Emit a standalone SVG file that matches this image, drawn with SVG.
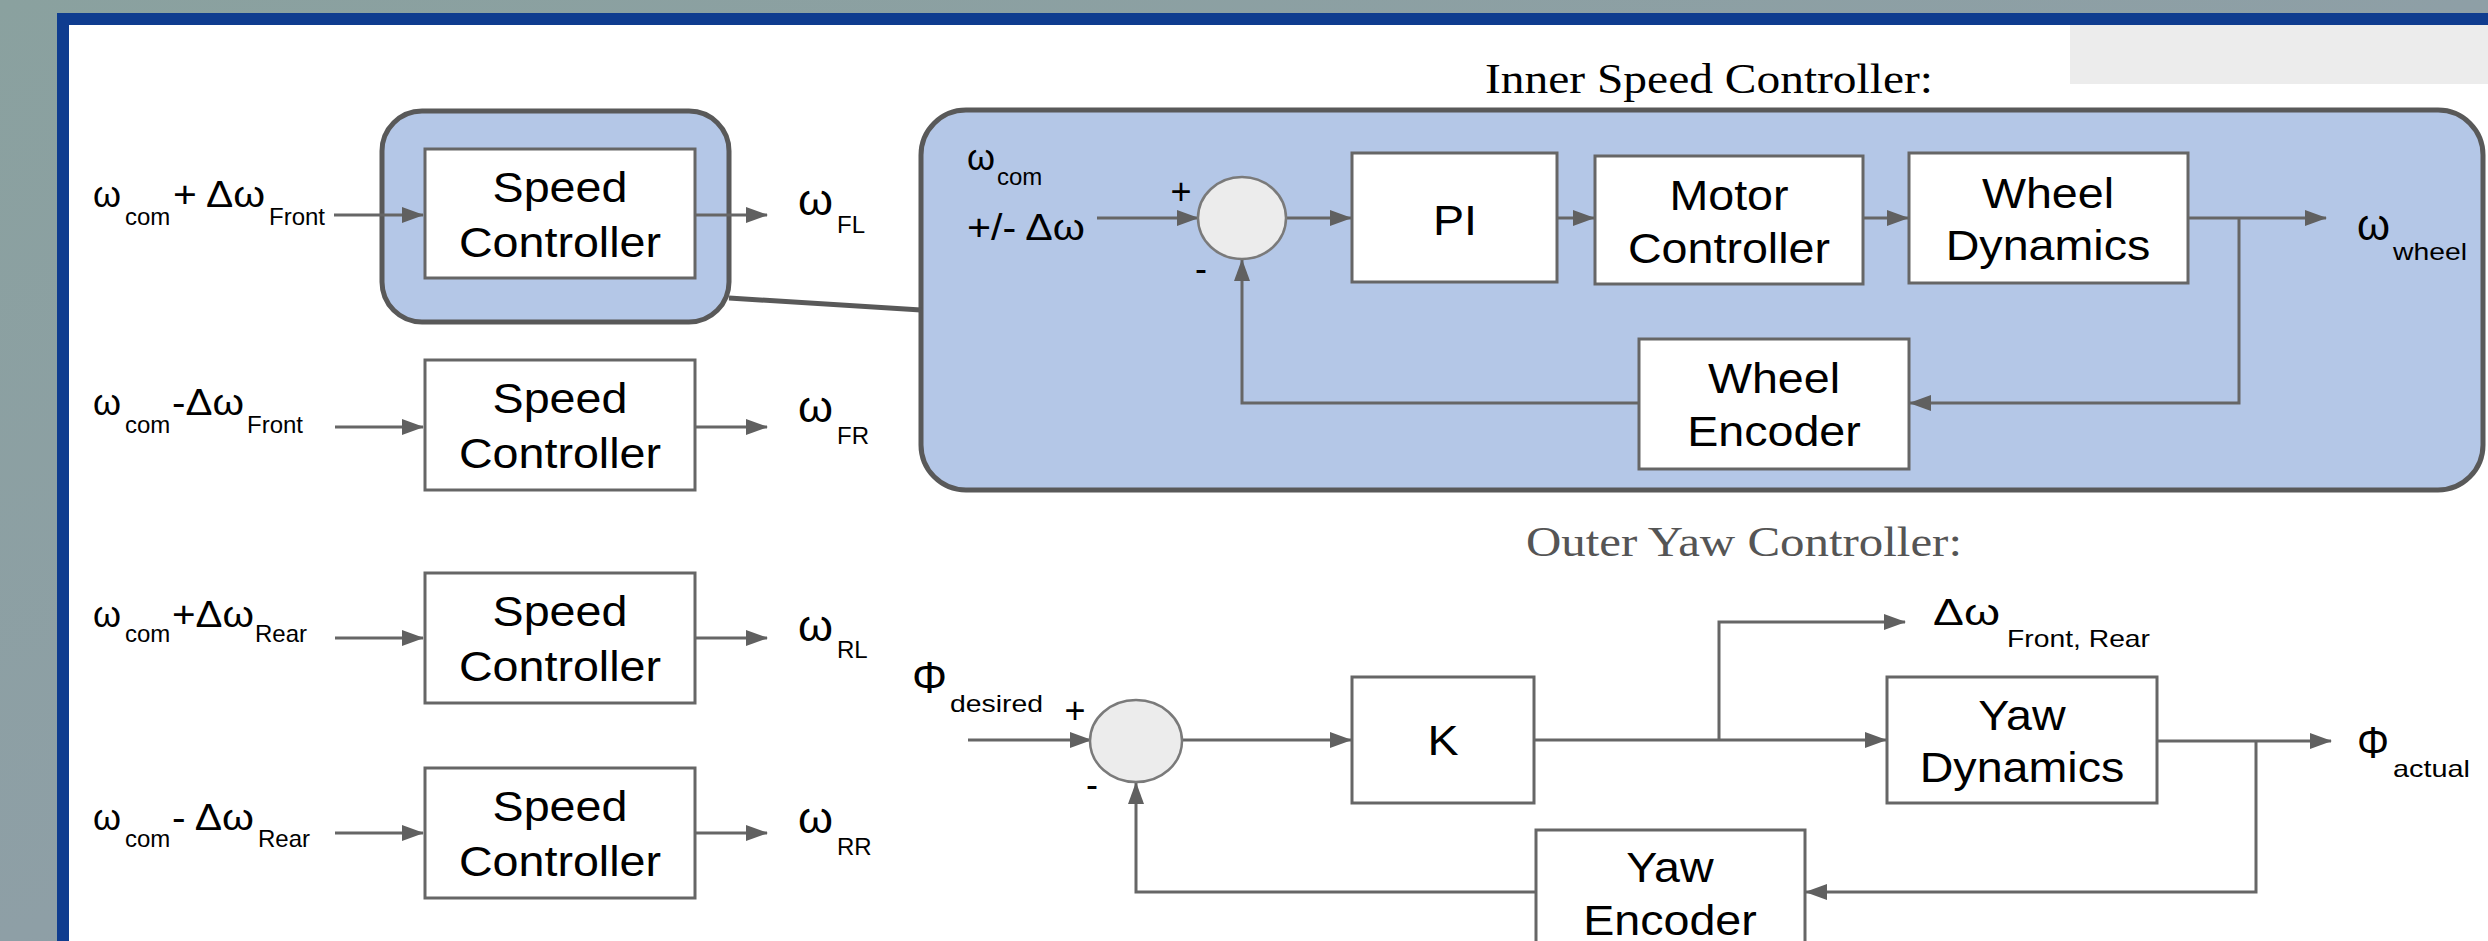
<svg xmlns="http://www.w3.org/2000/svg" width="2488" height="941" viewBox="0 0 2488 941">
<defs>
<linearGradient id="bg" x1="0" y1="0" x2="1" y2="1">
<stop offset="0" stop-color="#8aa19f"/>
<stop offset="0.5" stop-color="#8e9fa6"/>
<stop offset="1" stop-color="#8f98a8"/>
</linearGradient>
<marker id="ah" viewBox="0 0 22 16" refX="21" refY="8" markerWidth="22" markerHeight="16" markerUnits="userSpaceOnUse" orient="auto">
<path d="M0,0 L22,8 L0,16 z" fill="#606060"/>
</marker>
<style>
.box{fill:#ffffff;stroke:#666;stroke-width:3}
.bt{font-family:"Liberation Sans",Arial,sans-serif;font-size:42px;fill:#000;text-anchor:middle;transform-box:fill-box;transform-origin:center;transform:scaleX(1.11)}
.ln{fill:none;stroke:#666;stroke-width:3}
.ar{fill:none;stroke:#666;stroke-width:3;marker-end:url(#ah)}
.sum{fill:#ececec;stroke:#7a7a7a;stroke-width:2.5}
.m{font-family:"Liberation Sans",Arial,sans-serif;font-size:36px;fill:#000}
.mo{font-family:"Liberation Sans",Arial,sans-serif;font-size:45px;fill:#000}
.s{font-family:"Liberation Sans",Arial,sans-serif;font-size:24px;fill:#000}
.sg{font-family:"Liberation Sans",Arial,sans-serif;font-size:36px;fill:#000;text-anchor:middle}
.title{font-family:"Liberation Serif","Times New Roman",serif;font-size:42px}
</style>
</defs>

<!-- background and frame -->
<rect x="0" y="0" width="2488" height="941" fill="url(#bg)"/>
<rect x="57" y="13" width="2440" height="940" fill="#0f3c8f"/>
<rect x="69" y="25" width="2430" height="930" fill="#ffffff"/>
<rect x="2070" y="25" width="418" height="59" fill="#ececec"/>

<!-- titles -->
<text class="title" x="1485" y="93" textLength="448" lengthAdjust="spacingAndGlyphs" fill="#000">Inner Speed Controller:</text>
<text class="title" x="1526" y="556" textLength="436" lengthAdjust="spacingAndGlyphs" fill="#555">Outer Yaw Controller:</text>

<!-- containers -->
<g id="highlight">
<rect x="382" y="111" width="347" height="211" rx="40" ry="40" fill="#b4c7e7" stroke="#595959" stroke-width="5"/>
</g>
<g id="inner-speed-controller">
<rect x="921" y="110" width="1562" height="380" rx="45" ry="45" fill="#b4c7e7" stroke="#595959" stroke-width="5"/>
</g>

<!-- connectors -->
<g id="connectors">
<line x1="729" y1="298" x2="921" y2="310" stroke="#595959" stroke-width="5"/>
<!-- left column -->
<line class="ar" x1="334" y1="215" x2="423" y2="215"/>
<line class="ar" x1="695" y1="215" x2="767" y2="215"/>
<line class="ar" x1="335" y1="427" x2="423" y2="427"/>
<line class="ar" x1="695" y1="427" x2="767" y2="427"/>
<line class="ar" x1="335" y1="638" x2="423" y2="638"/>
<line class="ar" x1="695" y1="638" x2="767" y2="638"/>
<line class="ar" x1="335" y1="833" x2="423" y2="833"/>
<line class="ar" x1="695" y1="833" x2="767" y2="833"/>
<!-- inner loop -->
<line class="ar" x1="1097" y1="218" x2="1198" y2="218"/>
<line class="ar" x1="1286" y1="218" x2="1351" y2="218"/>
<line class="ar" x1="1557" y1="218" x2="1594" y2="218"/>
<line class="ar" x1="1863" y1="218" x2="1908" y2="218"/>
<line class="ar" x1="2188" y1="218" x2="2326" y2="218"/>
<polyline class="ar" points="2239,218 2239,403 1910,403"/>
<polyline class="ar" points="1639,403 1242,403 1242,260"/>
<!-- outer loop -->
<line class="ar" x1="968" y1="740" x2="1091" y2="740"/>
<line class="ar" x1="1182" y1="740" x2="1351" y2="740"/>
<line class="ar" x1="1534" y1="740" x2="1886" y2="740"/>
<polyline class="ar" points="1719,740 1719,622 1905,622"/>
<line class="ar" x1="2157" y1="741" x2="2331" y2="741"/>
<polyline class="ar" points="2256,741 2256,892 1806,892"/>
<polyline class="ar" points="1536,892 1136,892 1136,783"/>
</g>

<!-- nodes -->
<g id="speed-controller-fl">
<rect class="box" x="425" y="149" width="270" height="129"/>
<text class="bt" x="560" y="202">Speed</text>
<text class="bt" x="560" y="257">Controller</text>
</g>
<g id="speed-controller-fr">
<rect class="box" x="425" y="360" width="270" height="130"/>
<text class="bt" x="560" y="413">Speed</text>
<text class="bt" x="560" y="468">Controller</text>
</g>
<g id="speed-controller-rl">
<rect class="box" x="425" y="573" width="270" height="130"/>
<text class="bt" x="560" y="626">Speed</text>
<text class="bt" x="560" y="681">Controller</text>
</g>
<g id="speed-controller-rr">
<rect class="box" x="425" y="768" width="270" height="130"/>
<text class="bt" x="560" y="821">Speed</text>
<text class="bt" x="560" y="876">Controller</text>
</g>

<g id="inner-sum">
<ellipse class="sum" cx="1242" cy="218" rx="44" ry="41"/>
</g>
<g id="pi">
<rect class="box" x="1352" y="153" width="205" height="129"/>
<text class="bt" x="1455" y="235">PI</text>
</g>
<g id="motor-controller">
<rect class="box" x="1595" y="156" width="268" height="128"/>
<text class="bt" x="1729" y="210">Motor</text>
<text class="bt" x="1729" y="263">Controller</text>
</g>
<g id="wheel-dynamics">
<rect class="box" x="1909" y="153" width="279" height="130"/>
<text class="bt" x="2048" y="208">Wheel</text>
<text class="bt" x="2048" y="260">Dynamics</text>
</g>
<g id="wheel-encoder">
<rect class="box" x="1639" y="339" width="270" height="130"/>
<text class="bt" x="1774" y="393">Wheel</text>
<text class="bt" x="1774" y="446">Encoder</text>
</g>

<g id="outer-sum">
<ellipse class="sum" cx="1136" cy="741" rx="46" ry="41"/>
</g>
<g id="k">
<rect class="box" x="1352" y="677" width="182" height="126"/>
<text class="bt" x="1443" y="755">K</text>
</g>
<g id="yaw-dynamics">
<rect class="box" x="1887" y="677" width="270" height="126"/>
<text class="bt" x="2022" y="730">Yaw</text>
<text class="bt" x="2022" y="782">Dynamics</text>
</g>
<g id="yaw-encoder">
<rect class="box" x="1536" y="830" width="269" height="140"/>
<text class="bt" x="1670" y="882">Yaw</text>
<text class="bt" x="1670" y="935">Encoder</text>
</g>

<!-- labels -->
<g id="labels">
<!-- inputs -->
<text class="m" x="93" y="207" textLength="28" lengthAdjust="spacingAndGlyphs">ω</text>
<text class="s" x="125" y="225">com</text>
<text class="m" x="173" y="207" textLength="92" lengthAdjust="spacingAndGlyphs">+ Δω</text>
<text class="s" x="269" y="225">Front</text>

<text class="m" x="93" y="415" textLength="28" lengthAdjust="spacingAndGlyphs">ω</text>
<text class="s" x="125" y="433">com</text>
<text class="m" x="172" y="415" textLength="72" lengthAdjust="spacingAndGlyphs">-Δω</text>
<text class="s" x="247" y="433">Front</text>

<text class="m" x="93" y="627" textLength="28" lengthAdjust="spacingAndGlyphs">ω</text>
<text class="s" x="125" y="642">com</text>
<text class="m" x="172" y="627" textLength="82" lengthAdjust="spacingAndGlyphs">+Δω</text>
<text class="s" x="255" y="642">Rear</text>

<text class="m" x="93" y="830" textLength="28" lengthAdjust="spacingAndGlyphs">ω</text>
<text class="s" x="125" y="847">com</text>
<text class="m" x="172" y="830" textLength="82" lengthAdjust="spacingAndGlyphs">- Δω</text>
<text class="s" x="258" y="847">Rear</text>

<!-- outputs -->
<text class="mo" x="798" y="215" textLength="35" lengthAdjust="spacingAndGlyphs">ω</text>
<text class="s" x="837" y="233">FL</text>
<text class="mo" x="798" y="422" textLength="35" lengthAdjust="spacingAndGlyphs">ω</text>
<text class="s" x="837" y="444">FR</text>
<text class="mo" x="798" y="641" textLength="35" lengthAdjust="spacingAndGlyphs">ω</text>
<text class="s" x="837" y="658">RL</text>
<text class="mo" x="798" y="833" textLength="35" lengthAdjust="spacingAndGlyphs">ω</text>
<text class="s" x="837" y="855">RR</text>

<!-- inner loop labels -->
<text class="m" x="967" y="170" textLength="28" lengthAdjust="spacingAndGlyphs">ω</text>
<text class="s" x="997" y="185">com</text>
<text class="m" x="967" y="240" textLength="118" lengthAdjust="spacingAndGlyphs">+/- Δω</text>
<text class="sg" x="1181" y="204">+</text>
<text class="sg" x="1201" y="281">-</text>
<text class="mo" x="2357" y="240" textLength="33" lengthAdjust="spacingAndGlyphs">ω</text>
<text class="s" x="2393" y="260" textLength="74" lengthAdjust="spacingAndGlyphs">wheel</text>

<!-- outer loop labels -->
<text class="mo" x="912" y="693" textLength="35" lengthAdjust="spacingAndGlyphs">Φ</text>
<text class="s" x="950" y="712" textLength="93" lengthAdjust="spacingAndGlyphs">desired</text>
<text class="sg" x="1075" y="723">+</text>
<text class="sg" x="1092" y="797">-</text>
<text class="m" x="1933" y="625" textLength="67" lengthAdjust="spacingAndGlyphs">Δω</text>
<text class="s" x="2007" y="647" textLength="143" lengthAdjust="spacingAndGlyphs">Front, Rear</text>
<text class="mo" x="2357" y="758" textLength="32" lengthAdjust="spacingAndGlyphs">Φ</text>
<text class="s" x="2393" y="777" textLength="77" lengthAdjust="spacingAndGlyphs">actual</text>
</g>
</svg>
